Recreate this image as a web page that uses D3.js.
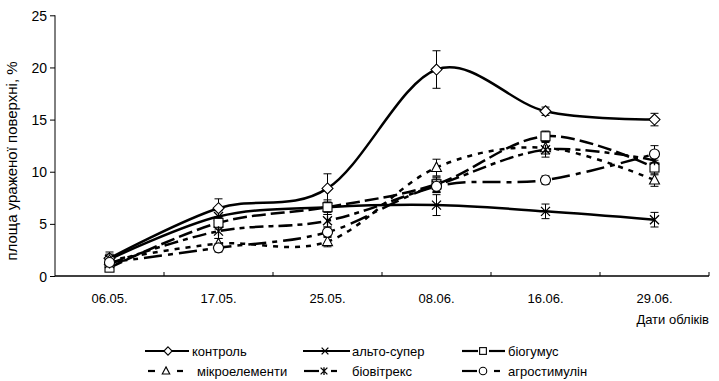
<!DOCTYPE html>
<html><head><meta charset="utf-8">
<script src="https://cdn.jsdelivr.net/npm/d3@7"></script>
<style>body{margin:0;background:#fff}svg{display:block}text{font-family:"Liberation Sans",Arial,sans-serif;fill:#000}</style>
</head><body><svg id="c" width="719" height="381"></svg>
<script>
const categories = ["06.05.", "17.05.", "25.05.", "08.06.", "16.06.", "29.06."];
const yTicks = [0, 5, 10, 15, 20, 25];
const seriesNames = ["контроль", "альто-супер", "біогумус", "мікроелементи", "біовітрекс", "агростимулін"];
const control      = [1.7, 6.5, 8.4, 19.8, 15.8, 15.0];
const controlErr   = [0.6, 0.9, 1.4, 1.8, 0.4, 0.6];
const alto         = [1.6, 5.7, 6.6, 6.8, 6.2, 5.4];
const altoErr      = [0.5, 0.6, 0.7, 1.0, 0.7, 0.7];
const biohumus     = [0.8, 5.1, 6.6, 8.8, 13.4, 10.4];
const biohumusErr  = [0.3, 0.6, 0.5, 0.7, 0.5, 0.7];
const micro        = [1.5, 3.1, 3.3, 10.4, 12.3, 9.2];
const microErr     = [0.5, 0.5, 0.5, 0.8, 0.6, 0.6];
const biovit       = [1.2, 4.3, 5.3, 8.7, 12.1, 11.1];
const biovitErr    = [0.4, 0.7, 0.6, 0.7, 0.7, 0.7];
const agro         = [1.3, 2.7, 4.2, 8.6, 9.2, 11.7];
const agroErr      = [0.4, 0.4, 0.5, 0.6, 0.4, 0.8];

const series = [
  {name: seriesNames[0], v: control, e: controlErr, dash: null, m: "diamond"},
  {name: seriesNames[1], v: alto, e: altoErr, dash: null, m: "x"},
  {name: seriesNames[2], v: biohumus, e: biohumusErr, dash: "14,5", m: "square"},
  {name: seriesNames[3], v: micro, e: microErr, dash: "5,6", m: "triangle"},
  {name: seriesNames[4], v: biovit, e: biovitErr, dash: "14,5,5,5", m: "star"},
  {name: seriesNames[5], v: agro, e: agroErr, dash: "18,6,5,6", m: "circle"}
];

const svg = d3.select("#c");
const L = 55, R = 709, T = 15.3, B = 276;
const x = d3.scaleBand().domain(categories).range([L, R]);
const y = d3.scaleLinear().domain([0, 25]).range([B, T]);
const cx = c => x(c) + x.bandwidth() / 2;

// axes
const yAxis = svg.append("g").attr("transform", `translate(${L},0)`)
  .call(d3.axisLeft(y).tickValues(yTicks).tickSize(5).tickPadding(3));
yAxis.select(".domain").attr("d", `M0,${B}V${T}`).attr("stroke", "#000");
yAxis.selectAll("text").style("font-size", "14px").attr("dy", "0.36em");
yAxis.selectAll("line").attr("stroke", "#000");

const xg = svg.append("g").attr("transform", `translate(0,${B})`);
xg.append("line").attr("x1", L).attr("x2", R).attr("stroke", "#000").attr("stroke-width", 1.3);
const bounds = categories.map(c => x(c)).concat([R]);
xg.selectAll("line.t").data(bounds.slice(1)).join("line").attr("class", "t")
  .attr("x1", d => d).attr("x2", d => d).attr("y1", 0).attr("y2", -4).attr("stroke", "#000");
xg.selectAll("text").data(categories).join("text")
  .attr("x", d => cx(d)).attr("y", 27).attr("text-anchor", "middle").style("font-size", "13px").text(d => d);

svg.append("text").attr("transform", `translate(17,161) rotate(-90)`)
  .attr("text-anchor", "middle").style("font-size", "15px").text("площа ураженої поверхні, %");
svg.append("text").attr("x", 709).attr("y", 324).attr("text-anchor", "end").style("font-size", "13px").text("Дати обліків");

// lines
const line = d3.line().x((d, i) => cx(categories[i])).y(d => y(d)).curve(d3.curveCardinal.tension(0));
series.forEach(s => {
  svg.append("path").datum(s.v).attr("d", line).attr("fill", "none").attr("stroke", "#000")
    .attr("stroke-width", 2.5).attr("stroke-dasharray", s.dash);
});

// error bars
series.forEach(s => {
  const g = svg.append("g").attr("stroke", "#000").attr("stroke-width", 1);
  s.v.forEach((v, i) => {
    const X = cx(categories[i]), y1 = y(v + s.e[i]), y2 = y(v - s.e[i]);
    g.append("line").attr("x1", X).attr("x2", X).attr("y1", y1).attr("y2", y2);
    g.append("line").attr("x1", X - 4).attr("x2", X + 4).attr("y1", y1).attr("y2", y1);
    g.append("line").attr("x1", X - 4).attr("x2", X + 4).attr("y1", y2).attr("y2", y2);
  });
});

function marker(g, type, X, Y, k) {
  k = k || 1;
  const st = sel => sel.attr("fill", "#fff").attr("stroke", "#000").attr("stroke-width", 1.1);
  if (type === "diamond") st(g.append("path").attr("d", `M${X},${Y - 5.5*k}L${X + 5.5*k},${Y}L${X},${Y + 5.5*k}L${X - 5.5*k},${Y}Z`));
  else if (type === "square") st(g.append("rect").attr("x", X - 4.5*k).attr("y", Y - 4.5*k).attr("width", 9*k).attr("height", 9*k));
  else if (type === "circle") st(g.append("circle").attr("cx", X).attr("cy", Y).attr("r", 5*k));
  else if (type === "triangle") st(g.append("path").attr("d", `M${X},${Y - 5.5*k}L${X + 5*k},${Y + 4*k}L${X - 5*k},${Y + 4*k}Z`));
  else {
    const a = 4.5*k;
    const p = `M${X - a},${Y - a}L${X + a},${Y + a}M${X + a},${Y - a}L${X - a},${Y + a}` + (type === "star" ? `M${X},${Y - a - 0.5}V${Y + a + 0.5}` : "");
    g.append("path").attr("d", p).attr("stroke", "#000").attr("stroke-width", 1.3).attr("fill", "none");
  }
}
series.forEach(s => {
  const g = svg.append("g");
  s.v.forEach((v, i) => marker(g, s.m, cx(categories[i]), y(v)));
});

// legend
const leg = [
  {s: 0, segs: [[145, 189]], mx: 168, tx: 192, row: 0},
  {s: 1, segs: [[303, 350]], mx: 325, tx: 352, row: 0},
  {s: 2, segs: [[462, 478], [489, 505]], mx: 483, tx: 508, row: 0},
  {s: 3, segs: [[148, 155], [177, 183]], mx: 166, tx: 197, row: 1},
  {s: 4, segs: [[304, 319], [331, 337]], mx: 324, tx: 352, row: 1},
  {s: 5, segs: [[462, 477], [494, 500]], mx: 483, tx: 508, row: 1}
];
const rowsY = [351, 371];
leg.forEach(l => {
  const s = series[l.s], Y = rowsY[l.row];
  const g = svg.append("g");
  l.segs.forEach(sg => g.append("line").attr("x1", sg[0]).attr("x2", sg[1]).attr("y1", Y).attr("y2", Y)
    .attr("stroke", "#000").attr("stroke-width", 2.2));
  marker(g, s.m, l.mx, Y, 0.75);
  g.append("text").attr("x", l.tx).attr("y", Y).attr("dy", "0.36em").style("font-size", "13px").text(s.name);
});
</script></body></html>
